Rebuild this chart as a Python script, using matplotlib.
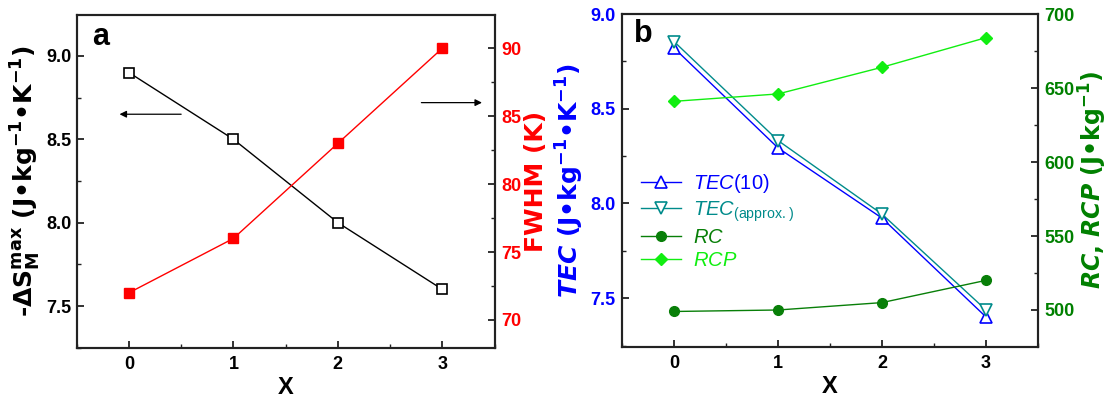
import matplotlib
matplotlib.use("Agg")
import matplotlib.pyplot as plt
from matplotlib.ticker import MultipleLocator

plt.rcParams['font.family'] = ['Liberation Sans', 'DejaVu Sans']
plt.rcParams['mathtext.fontset'] = 'custom'
plt.rcParams['mathtext.rm'] = 'DejaVu Sans:bold'
plt.rcParams['mathtext.bf'] = 'DejaVu Sans:bold'
plt.rcParams['mathtext.it'] = 'DejaVu Sans:bold:italic'
plt.rcParams['mathtext.sf'] = 'Liberation Sans'
plt.rcParams['mathtext.cal'] = 'Liberation Sans:italic'

# ---- data ----
x_vals = [0, 1, 2, 3]
x_ticklabels = ['0', '1', '2', '3']
dS_max = [8.9, 8.5, 8.0, 7.6]
fwhm = [72, 76, 83, 90]
tec10 = [8.82, 8.293, 7.923, 7.402]
tec_approx = [8.854, 8.332, 7.944, 7.439]
rc = [499, 500, 505, 520]
rcp = [641, 646, 664, 684]
legend_labels = [r'$\mathcal{TEC}\mathsf{(10)}$', r'$\mathcal{TEC}_\mathsf{(approx.)}$',
                 r'$\mathcal{RC}$', r'$\mathcal{RCP}$']

RED = '#ff0000'
BLUE = '#0000ff'
TEAL = '#008b8b'
DGREEN = '#087f08'
LIME = '#11ee11'
AXGREEN = '#008000'
SPINE = '#222222'

fig = plt.figure(figsize=(11.1, 3.97), dpi=100)
ax1 = fig.add_axes([0.0691, 0.1242, 0.3764, 0.838])
ax2 = fig.add_axes([0.5606, 0.1267, 0.3743, 0.838])

TICK_FS = 13
LAB_FS = 18
LAB_FONT = 'DejaVu Sans'

def style_axis(ax, lc='black', side='left', pad=4):
    for s in ax.spines.values():
        s.set_linewidth(1.5)
        s.set_color(SPINE)
    ax.tick_params(axis='y', which='both', direction='in', colors=SPINE,
                   labelcolor=lc, labelsize=TICK_FS, pad=pad,
                   left=(side == 'left'), right=(side == 'right'),
                   labelleft=(side == 'left'), labelright=(side == 'right'))
    ax.tick_params(axis='y', which='major', length=5, width=1.3)
    ax.tick_params(axis='y', which='minor', length=3, width=1.0)
    for lab in ax.get_yticklabels():
        lab.set_fontweight('bold')

def style_x(ax):
    ax.set_xlim(-0.5, 3.5)
    ax.set_xticks(x_vals)
    ax.set_xticklabels(x_ticklabels, fontweight='bold', fontsize=TICK_FS)
    ax.xaxis.set_minor_locator(MultipleLocator(0.5))
    ax.tick_params(axis='x', which='both', direction='in', pad=6, colors=SPINE,
                   labelcolor='black', top=False)
    ax.tick_params(axis='x', which='major', length=5, width=1.3)
    ax.tick_params(axis='x', which='minor', length=3, width=1.0)
    ax.set_xlabel('X', fontsize=17, fontweight='bold', labelpad=2)

# ---- panel a ----
ax1r = ax1.twinx()
ax1.plot(x_vals, dS_max, color='black', lw=1.0, marker='s', ms=7,
         mfc='white', mec='black', mew=1.2, zorder=3)
ax1r.plot(x_vals, fwhm, color=RED, lw=1.0, marker='s', ms=7,
          mfc=RED, mec=RED, zorder=3)
ax1.set_ylim(7.25, 9.245)
ax1.set_yticks([7.5, 8.0, 8.5, 9.0])
ax1.set_yticklabels(['7.5', '8.0', '8.5', '9.0'])
ax1.yaxis.set_minor_locator(MultipleLocator(0.25))
ax1r.set_ylim(67.96, 92.45)
ax1r.set_yticks([70, 75, 80, 85, 90])
ax1r.set_yticklabels(['70', '75', '80', '85', '90'])
ax1r.yaxis.set_minor_locator(MultipleLocator(2.5))
style_x(ax1)
style_axis(ax1, 'black', 'left', pad=4)
style_axis(ax1r, RED, 'right', pad=5)
ax1.set_ylabel(r'-$\Delta$S$_\mathregular{M}^\mathregular{max}$ (J•kg$^{-1}$•K$^{-1}$)',
               fontsize=LAB_FS, fontweight='bold', family=LAB_FONT, labelpad=2)
ax1r.set_ylabel('FWHM (K)', fontsize=LAB_FS, fontweight='bold', family=LAB_FONT,
                color=RED, labelpad=2)
ax1.annotate('', xy=(-0.09, 8.65), xytext=(0.5, 8.65),
             arrowprops=dict(arrowstyle='-|>', color='black', lw=0.9,
                             mutation_scale=10, shrinkA=0, shrinkB=0))
ax1r.annotate('', xy=(3.38, 86), xytext=(2.8, 86),
              arrowprops=dict(arrowstyle='-|>', color='black', lw=0.9,
                              mutation_scale=10, shrinkA=0, shrinkB=0))
ax1.text(0.037, 0.935, 'a', transform=ax1.transAxes, fontsize=22,
         fontweight='bold', va='center', ha='left')

# ---- panel b ----
ax2r = ax2.twinx()
h1, = ax2.plot(x_vals, tec10, color=BLUE, lw=1.0, marker='^', ms=8,
               mfc='white', mec=BLUE, mew=1.2, zorder=3)
h2, = ax2.plot(x_vals, tec_approx, color=TEAL, lw=1.0, marker='v', ms=8,
               mfc='white', mec=TEAL, mew=1.2, zorder=3)
h3, = ax2r.plot(x_vals, rc, color=DGREEN, lw=1.0, marker='o', ms=7,
                mfc=DGREEN, mec=DGREEN, zorder=3)
h4, = ax2r.plot(x_vals, rcp, color=LIME, lw=1.0, marker='D', ms=6,
                mfc=LIME, mec=LIME, zorder=3)
ax2.set_ylim(7.244, 9.0)
ax2.set_yticks([7.5, 8.0, 8.5, 9.0])
ax2.set_yticklabels(['7.5', '8.0', '8.5', '9.0'])
ax2.yaxis.set_minor_locator(MultipleLocator(0.25))
ax2r.set_ylim(475.2, 700)
ax2r.set_yticks([500, 550, 600, 650, 700])
ax2r.set_yticklabels(['500', '550', '600', '650', '700'])
ax2r.yaxis.set_minor_locator(MultipleLocator(25))
style_x(ax2)
style_axis(ax2, BLUE, 'left', pad=5)
style_axis(ax2r, AXGREEN, 'right', pad=5)
ax2.set_ylabel(r'$\mathit{TEC}$ (J•kg$^{-1}$•K$^{-1}$)', fontsize=LAB_FS,
               fontweight='bold', family=LAB_FONT, color=BLUE, labelpad=3)
ax2r.set_ylabel(r'$\mathit{RC}$, $\mathit{RCP}$ (J•kg$^{-1}$)', fontsize=17,
                fontweight='bold', family=LAB_FONT, color=AXGREEN, labelpad=1)
ax2.text(0.028, 0.94, 'b', transform=ax2.transAxes, fontsize=22,
         fontweight='bold', va='center', ha='left')
leg = ax2.legend([h1, h2, h3, h4], legend_labels, loc='upper left',
                 bbox_to_anchor=(0.045, 0.525), frameon=False, fontsize=14.5,
                 handlelength=2.0, handletextpad=0.6, labelspacing=0.2,
                 borderpad=0, borderaxespad=0)
for t, c in zip(leg.get_texts(), [BLUE, TEAL, DGREEN, LIME]):
    t.set_color(c)

fig.savefig('out.png', dpi=100)
